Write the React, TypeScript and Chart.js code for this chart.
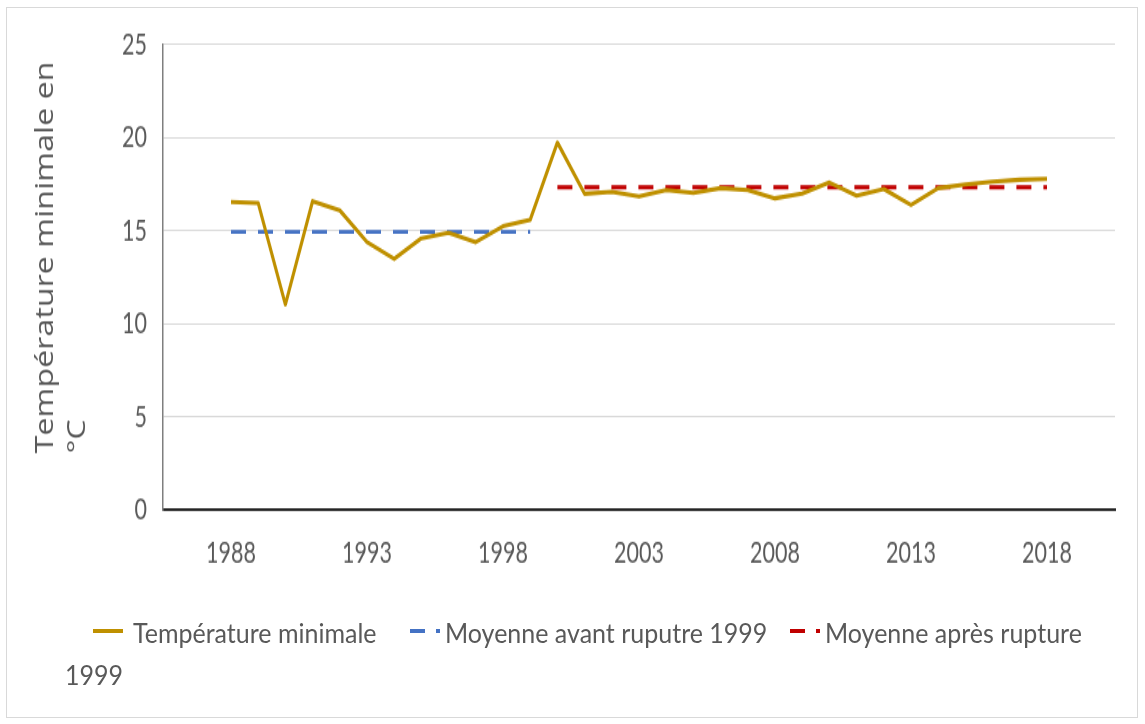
import React, { useEffect, useRef } from "react";
import { Chart, registerables } from "chart.js";

Chart.register(...registerables);

// ---- Data ----
const years = [
  1988, 1989, 1990, 1991, 1992, 1993, 1994, 1995, 1996, 1997, 1998, 1999,
  2000, 2001, 2002, 2003, 2004, 2005, 2006, 2007, 2008, 2009, 2010, 2011,
  2012, 2013, 2014, 2015, 2016, 2017, 2018,
];
const tempMin = [
  16.55, 16.5, 11.05, 16.6, 16.1, 14.4, 13.5, 14.6, 14.9, 14.4, 15.25, 15.6,
  19.75, 17.0, 17.1, 16.85, 17.2, 17.05, 17.3, 17.2, 16.75, 17.0, 17.6, 16.9,
  17.25, 16.4, 17.3, 17.5, 17.65, 17.75, 17.8,
];
const beforeYears = [1988, 1999];
const beforeMean = [14.95, 14.95];
const afterYears = [2000, 2018];
const afterMean = [17.35, 17.35];

const xTickYears = [1988, 1993, 1998, 2003, 2008, 2013, 2018];
const yTickValues = [0, 5, 10, 15, 20, 25];

const seriesNames = [
  "Température minimale",
  "Moyenne avant ruputre 1999",
  "Moyenne après rupture",
];
const lastLegendWrap = "1999";
const yTitleLines = ["Température minimale en", "°C"];

const GOLD = "#BF9000";
const BLUE = "#4472C4";
const RED = "#C00000";
const TEXT = "#595959";
const FONT = "Lato, 'Open Sans', sans-serif";

// The reference picture is stretched vertically; the canvas is drawn
// un-stretched and scaled with CSS.
const STRETCH = 1.4;
const CANVAS_W = 1145;
const CANVAS_H = 517;

export default function App() {
  const canvasRef = useRef<HTMLCanvasElement | null>(null);

  useEffect(() => {
    const canvas = canvasRef.current;
    if (!canvas) return;
    const tickFont = { family: FONT, size: 21.5 };
    const chart = new Chart(canvas, {
      type: "line",
      data: {
        datasets: [
          {
            label: seriesNames[0],
            data: years.map((x, i) => ({ x, y: tempMin[i] })),
            borderColor: GOLD,
            backgroundColor: GOLD,
            borderWidth: 3.1,
            pointRadius: 0,
            tension: 0,
            borderJoinStyle: "round",
          },
          {
            label: seriesNames[1],
            data: beforeYears.map((x, i) => ({ x, y: beforeMean[i] })),
            borderColor: BLUE,
            backgroundColor: BLUE,
            borderWidth: 2.9,
            borderDash: [15, 12],
            borderCapStyle: "butt",
            pointRadius: 0,
          },
          {
            label: seriesNames[2],
            data: afterYears.map((x, i) => ({ x, y: afterMean[i] })),
            borderColor: RED,
            backgroundColor: RED,
            borderWidth: 2.9,
            borderDash: [15, 12],
            borderCapStyle: "butt",
            pointRadius: 0,
          },
        ],
      },
      options: {
        responsive: false,
        animation: false,
        devicePixelRatio: 1,
        layout: { padding: { top: 32, right: 30, bottom: 0, left: 0 } },
        plugins: { legend: { display: false }, tooltip: { enabled: false } },
        scales: {
          x: {
            type: "linear",
            min: 1985.5,
            max: 2020.5,
            afterBuildTicks: (s: any) => {
              s.ticks = xTickYears.map((v) => ({ value: v }));
            },
            afterFit: (s: any) => {
              s.height = 152.7;
            },
            grid: { display: false, drawTicks: false },
            border: { display: true, color: "#262626", width: 1.9 },
            ticks: {
              padding: 18,
              font: tickFont,
              color: TEXT,
              autoSkip: false,
              maxRotation: 0,
              callback: (v: any) => String(v),
            },
          },
          y: {
            min: 0,
            max: 25,
            afterBuildTicks: (s: any) => {
              s.ticks = yTickValues.map((v) => ({ value: v }));
            },
            afterFit: (s: any) => {
              s.width = 163;
            },
            grid: { color: "#d9d9d9", lineWidth: 1.1, drawTicks: false },
            border: { display: true, color: "#7f7f7f", width: 1.5 },
            ticks: {
              padding: 16,
              font: tickFont,
              color: TEXT,
              callback: (v: any) => String(v),
            },
          },
        },
      },
    } as any);
    return () => chart.destroy();
  }, []);

  const legendText: React.CSSProperties = {
    position: "absolute",
    fontFamily: FONT,
    fontSize: 25,
    lineHeight: "25px",
    color: TEXT,
    whiteSpace: "nowrap",
    transform: "scaleY(1.08)",
    transformOrigin: "0 0",
  };

  return (
    <div
      style={{
        position: "absolute",
        left: 0,
        top: 0,
        width: 1145,
        height: 724,
        background: "#fff",
        overflow: "hidden",
      }}
    >
      <div
        style={{
          position: "absolute",
          left: 6,
          top: 7,
          width: 1132,
          height: 711,
          border: "1px solid #d9d9d9",
          boxSizing: "border-box",
        }}
      />
      <canvas
        ref={canvasRef}
        width={CANVAS_W}
        height={CANVAS_H}
        style={{
          position: "absolute",
          left: 0,
          top: 0,
          display: "block",
          width: CANVAS_W,
          height: CANVAS_H,
          transform: `scaleY(${STRETCH})`,
          transformOrigin: "0 0",
        }}
      />
      {/* Y axis title */}
      <div
        style={{
          position: "absolute",
          left: 59 - 160,
          top: 247 - 32,
          width: 320,
          height: 64,
          lineHeight: "32px",
          fontFamily: "'Open Sans', sans-serif",
          fontSize: 25,
          color: TEXT,
          whiteSpace: "nowrap",
          textAlign: "left",
          transform: "rotate(-90deg) scaleX(1.29)",
          transformOrigin: "50% 50%",
        }}
      >
        {yTitleLines[0]}
        <br />
        {yTitleLines[1]}
      </div>
      {/* Legend */}
      <div style={{ position: "absolute", left: 93, top: 629, width: 30, height: 4, background: GOLD }} />
      <span style={{ ...legendText, left: 133, top: 619 }}>{seriesNames[0]}</span>

      <div style={{ position: "absolute", left: 410, top: 629, width: 15, height: 4, background: BLUE }} />
      <div style={{ position: "absolute", left: 436, top: 629, width: 4, height: 4, background: BLUE }} />
      <span style={{ ...legendText, left: 445, top: 619 }}>{seriesNames[1]}</span>

      <div style={{ position: "absolute", left: 790, top: 629, width: 15, height: 4, background: RED }} />
      <div style={{ position: "absolute", left: 816, top: 629, width: 4, height: 4, background: RED }} />
      <span style={{ ...legendText, left: 825, top: 619 }}>{seriesNames[2]}</span>
      <span style={{ ...legendText, left: 65, top: 661 }}>{lastLegendWrap}</span>
    </div>
  );
}
